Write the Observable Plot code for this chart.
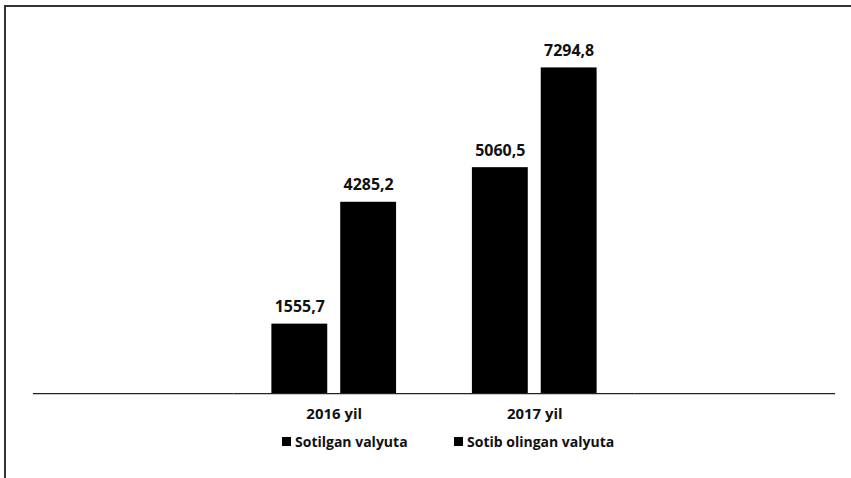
<!DOCTYPE html>
<html>
<head>
<meta charset="utf-8">
<script src="https://cdn.jsdelivr.net/npm/d3@7"></script>
<script src="https://cdn.jsdelivr.net/npm/@observablehq/plot@0.6"></script>
<style>
  html, body { margin: 0; padding: 0; background: #fff; }
  body { width: 851px; height: 478px; position: relative; overflow: hidden; font-family: "Open Sans", sans-serif; }
  #frame { position: absolute; left: 4px; top: 5px; width: 847px; height: 480px;
           border-top: 2px solid #333; border-left: 2px solid #333; box-sizing: border-box; }
  #chart { position: absolute; left: 2px; top: 2px; }
  .legend { position: absolute; top: 432px; height: 18px; display: flex; align-items: center;
            font: bold 14px "Open Sans", sans-serif; color: #111; white-space: nowrap; }
  .legend .sw { width: 9px; height: 9px; background: #000; margin-right: 4px; }
</style>
</head>
<body>
<div id="frame"><div id="chart"></div></div>
<div id="legend"></div>
<script>
// Categories (two blank slots on either side, as in the original chart)
const years = ["", "2016 yil", "2017 yil", " "];
const series = ["Sotilgan valyuta", "Sotib olingan valyuta"];
const sotilgan = [1555.7, 5060.5];        // 2016, 2017
const sotibOlingan = [4285.2, 7294.8];    // 2016, 2017
const dataYears = ["2016 yil", "2017 yil"];

const data = [];
dataYears.forEach((y, i) => {
  data.push({year: y, series: series[0], value: sotilgan[i]});
  data.push({year: y, series: series[1], value: sotibOlingan[i]});
});

const fmt = v => v.toFixed(1).replace(".", ",");

const chart = Plot.plot({
  width: 845,
  height: 420,
  marginLeft: 23,
  marginRight: 15,
  marginTop: 27,
  marginBottom: 35,
  style: {fontFamily: "Open Sans, sans-serif", background: "transparent", color: "#111"},
  fx: {domain: years, padding: 0, label: null},
  x: {domain: series, paddingInner: 0.19, paddingOuter: 0.55, axis: null},
  y: {domain: [0, 8000], axis: null},
  marks: [
    Plot.barY(data, {fx: "year", x: "series", y: "value", fill: "#000"}),
    Plot.ruleY(years, {fx: d => d, y: 0, stroke: "#222", strokeWidth: 1.3}),
    Plot.text(data, {fx: "year", x: "series", y: "value", text: d => fmt(d.value),
      dy: -17, fontSize: 16, fontWeight: "bold", fill: "#111"}),
    Plot.axisFx({anchor: "bottom", tickSize: 0, tickPadding: 15, fontSize: 15, fontWeight: "bold", label: null})
  ]
});
document.getElementById("chart").appendChild(chart);

// Legend
const legendPos = [282, 454];
const legend = document.getElementById("legend");
series.forEach((s, i) => {
  const item = document.createElement("div");
  item.className = "legend";
  item.style.left = legendPos[i] + "px";
  item.innerHTML = `<span class="sw"></span><span>${s}</span>`;
  legend.appendChild(item);
});
</script>
</body>
</html>
